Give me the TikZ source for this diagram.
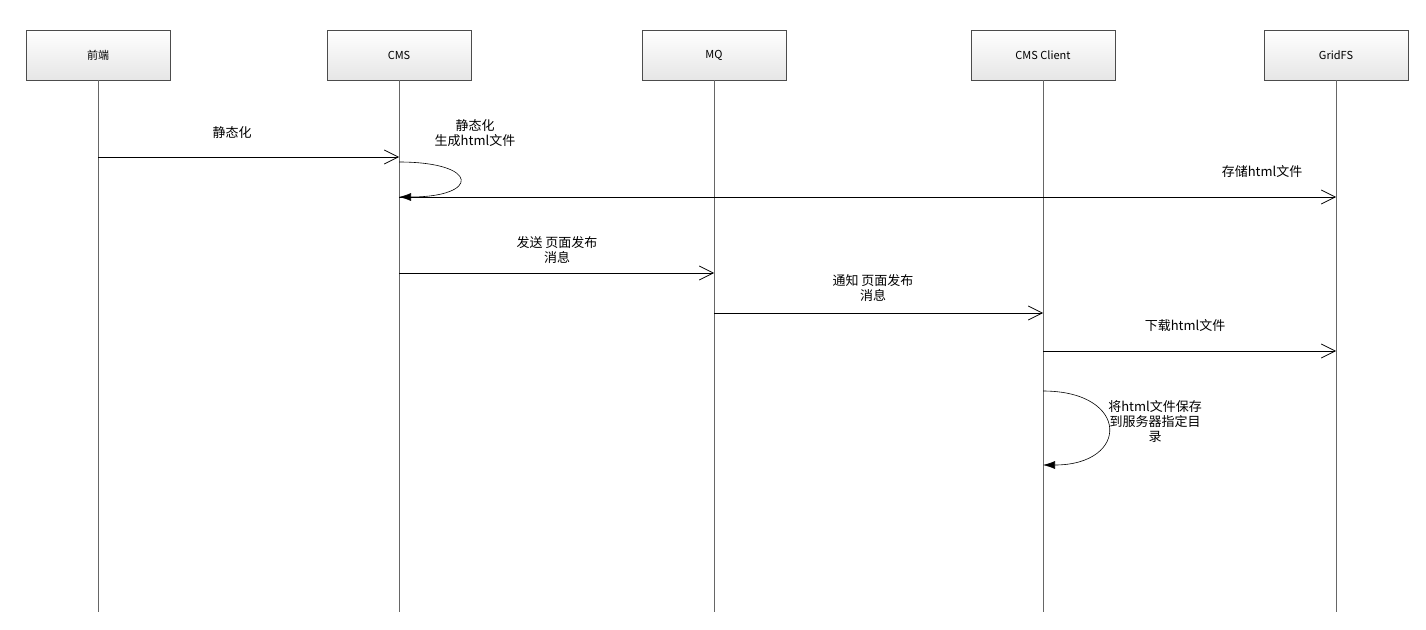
\documentclass[tikz,border=0pt]{standalone}
\usepackage{fontspec}
\setmainfont{Noto Sans CJK SC}
\usetikzlibrary{arrows.meta}
\begin{document}
\begin{tikzpicture}[x=1pt,y=-1pt,
  actor/.style={draw=black!70,top color=white,bottom color=black!10,minimum width=144pt,minimum height=50pt,font=\fontsize{11}{13}\selectfont},
  life/.style={draw=black!60,line width=0.6pt},
  msg/.style={draw=black,line width=0.6pt,-{Straight Barb[length=14pt,width=14pt,line width=0.7pt]}},
  selfmsg/.style={draw=black,line width=0.6pt,-{Latex[length=12pt,width=8pt]}},
  lbl/.style={font=\fontsize{13}{15}\selectfont,align=center}]
\useasboundingbox (0,0) rectangle (1426,629);
\node[actor] (a1) at (98,55) {前端};
\node[actor] (a2) at (399,55) {CMS};
\node[actor] (a3) at (714,55) {MQ};
\node[actor] (a4) at (1043,55) {CMS Client};
\node[actor] (a5) at (1336,55) {GridFS};
\foreach \n/\x in {1/98,2/399,3/714,4/1043,5/1336}{
  \coordinate (e\n) at (\x,612);
  \draw[life] (a\n.south) -- (e\n);
}
\coordinate (p1) at (98,157); \coordinate (q1) at (399,157);
\draw[msg] (p1) -- (q1);
\node[lbl] (l1) at (232,133) {静态化};
\coordinate (s1) at (399,162); \coordinate (s2) at (399,197);
\draw[selfmsg] (s1) .. controls (480,162) and (480,197) .. (s2);
\node[lbl] (l2) at (475,133) {静态化\\生成html文件};
\coordinate (g1) at (1336,197);
\draw[msg] (s2) -- (g1);
\node[lbl] (l3) at (1262,172) {存储html文件};
\coordinate (p4) at (399,273); \coordinate (q4) at (714,273);
\draw[msg] (p4) -- (q4);
\node[lbl] (l4) at (557,250) {发送 页面发布\\消息};
\coordinate (p5) at (714,313); \coordinate (q5) at (1043,313);
\draw[msg] (p5) -- (q5);
\node[lbl] (l5) at (873,288) {通知 页面发布\\消息};
\coordinate (p6) at (1043,351); \coordinate (q6) at (1336,351);
\draw[msg] (p6) -- (q6);
\node[lbl] (l6) at (1185,326) {下载html文件};
\coordinate (t1) at (1043,391); \coordinate (t2) at (1043,465);
\draw[selfmsg] (t1) .. controls (1130,391) and (1130,465) .. (t2);
\node[lbl] (l7) at (1155,422) {将html文件保存\\到服务器指定目\\录};
\end{tikzpicture}
\end{document}
